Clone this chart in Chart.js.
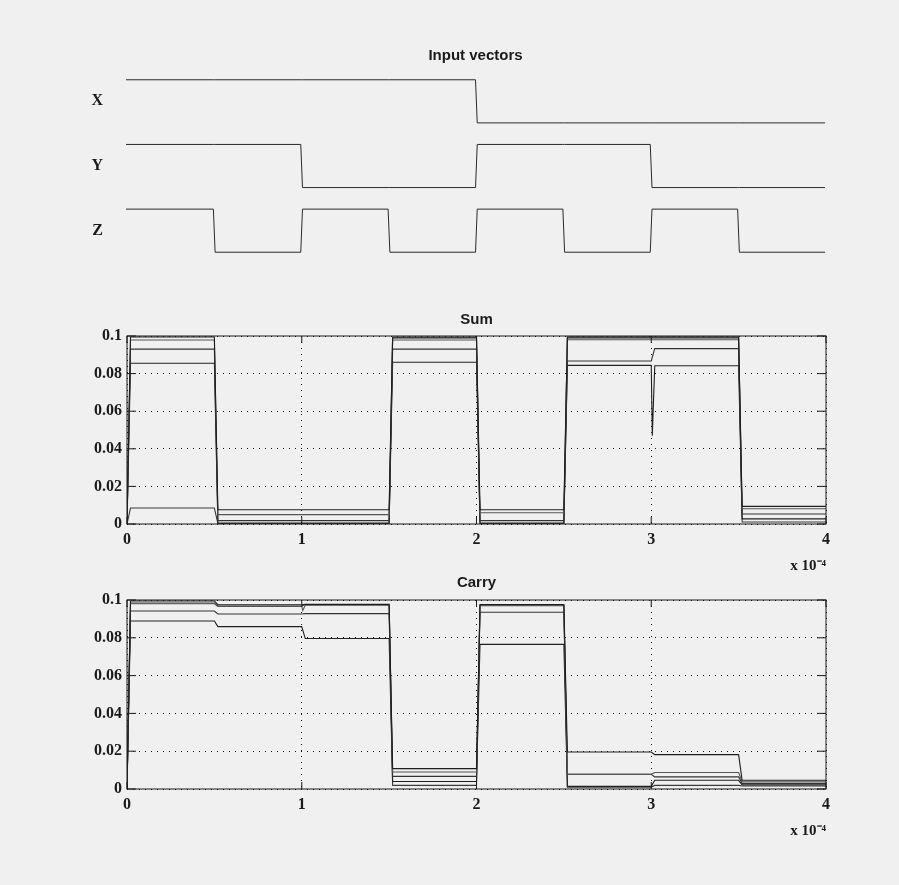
<!DOCTYPE html>
<html>
<head>
<meta charset="utf-8">
<script src="https://cdn.jsdelivr.net/npm/chart.js@4/dist/chart.umd.min.js"></script>
<style>
  html, body { margin: 0; padding: 0; background: #f0f0f0; }
  body { width: 899px; height: 885px; position: relative; overflow: hidden; }
  canvas { position: absolute; left: 0; }
</style>
</head>
<body>
<canvas id="inputs" width="899" height="240" style="top:30px"></canvas>
<canvas id="sum" width="899" height="275" style="top:300px"></canvas>
<canvas id="carry" width="899" height="280" style="top:560px"></canvas>
<script>
// Tiempo en unidades de 1e-4 s: inicio de cada tramo
const segStart = [0, 0.5, 1, 1.5, 2, 2.5, 3, 3.5];
const tEnd = 4;
const xTicks = [0, 1, 2, 3, 4];
const yTicks = [0, 0.02, 0.04, 0.06, 0.08, 0.1];

// Entradas (nivel lógico por tramo)
const inputNames = ['X', 'Y', 'Z'];
const inputX = [1, 1, 1, 1, 0, 0, 0, 0];
const inputY = [1, 1, 0, 0, 1, 1, 0, 0];
const inputZ = [1, 0, 1, 0, 1, 0, 1, 0];

// Sum: nivel por tramo de cada curva
const sum1 = [0.0995, 0.0076, 0.0076, 0.0990, 0.0076, 0.0990, 0.0990, 0.0094];
const sum2 = [0.0979, 0.0050, 0.0050, 0.0979, 0.0060, 0.0980, 0.0980, 0.0081];
const sum3 = [0.0930, 0.0018, 0.0018, 0.0930, 0.0018, 0.0867, 0.0933, 0.0053];
const sum4 = [0.0855, 0.0005, 0.0005, 0.0860, 0.0005, 0.0844, 0.0842, 0.0027];
const sum5 = [0.0085, 0.0003, 0.0003, 0.0995, 0.0003, 0.0996, 0.0996, 0.0011];
const sumDips = [{ trace: 3, t: 3, y: 0.047 }];

// Carry: nivel por tramo de cada curva
const carry1 = [0.0995, 0.0975, 0.0977, 0.0108, 0.0976, 0.0196, 0.0182, 0.0046];
const carry2 = [0.0980, 0.0966, 0.0972, 0.0090, 0.0970, 0.0078, 0.0087, 0.0038];
const carry3 = [0.0942, 0.0926, 0.0928, 0.0067, 0.0935, 0.0078, 0.0064, 0.0030];
const carry4 = [0.0889, 0.0859, 0.0796, 0.0040, 0.0765, 0.0014, 0.0046, 0.0022];
const carry5 = [0.0984, 0.0968, 0.0975, 0.0019, 0.0972, 0.0010, 0.0019, 0.0016];
const carryDips = [{ trace: 1, t: 1, y: 0.0945 }];

const traceColors = ['#1e1e1e', '#555555', '#333333', '#202020', '#3a3a3a'];

const serifBold = { family: "'Liberation Serif', 'Times New Roman', serif", size: 16, weight: 'bold' };
const titleFont = { family: "'Liberation Sans', Arial, sans-serif", size: 15, weight: 'bold' };

// Construye los puntos escalonados a partir de los niveles por tramo
function stepPoints(levels, edge, startLevel, dips) {
  const pts = [];
  if (startLevel !== undefined) pts.push({ x: 0, y: startLevel });
  levels.forEach((lv, i) => {
    const t0 = segStart[i];
    const t1 = i + 1 < segStart.length ? segStart[i + 1] : tEnd;
    const dip = (dips || []).find(d => d.t === t0);
    if (dip) pts.push({ x: t0 + edge * 0.3, y: dip.y });
    const first = (i === 0 && startLevel === undefined) ? t0 : t0 + edge;
    pts.push({ x: first, y: lv });
    pts.push({ x: t1, y: lv });
  });
  return pts;
}

// Marco y marcas hacia adentro (estilo MATLAB)
const marcoPlugin = {
  id: 'marco',
  afterDatasetsDraw(chart) {
    const { ctx, chartArea: a, scales } = chart;
    ctx.save();
    ctx.strokeStyle = '#1a1a1a';
    ctx.lineWidth = 1;
    ctx.strokeRect(a.left, a.top, a.right - a.left, a.bottom - a.top);
    ctx.beginPath();
    scales.x.ticks.forEach(t => {
      const px = scales.x.getPixelForValue(t.value);
      ctx.moveTo(px, a.bottom); ctx.lineTo(px, a.bottom - 7);
      ctx.moveTo(px, a.top); ctx.lineTo(px, a.top + 7);
    });
    scales.y.ticks.forEach(t => {
      const py = scales.y.getPixelForValue(t.value);
      ctx.moveTo(a.left, py); ctx.lineTo(a.left + 9, py);
      ctx.moveTo(a.right, py); ctx.lineTo(a.right - 9, py);
    });
    ctx.stroke();
    ctx.restore();
  }
};

// Gráfico de vectores de entrada (ejes apilados, uno por señal)
const inputs = [inputX, inputY, inputZ];
const inputScales = {
  x: { type: 'linear', min: 0, max: tEnd, display: false }
};
// el último eje definido queda arriba, por eso se recorren al revés
for (let k = inputs.length - 1; k >= 0; k--) {
  inputScales['y' + k] = {
    type: 'linear',
    position: 'left',
    stack: 'inputs',
    stackWeight: 1,
    min: -0.25,
    max: 1.25,
    grid: { display: false, drawTicks: false },
    border: { display: false },
    afterBuildTicks: s => { s.ticks = [{ value: 0.5 }]; },
    afterFit: s => { s.width = 126; s.paddingTop = 0; s.paddingBottom = 0; },
    ticks: { callback: () => inputNames[k], font: serifBold, color: '#1a1a1a', padding: 23 }
  };
}

new Chart(document.getElementById('inputs'), {
  type: 'line',
  data: {
    datasets: inputs.map((lv, k) => ({
      label: inputNames[k],
      data: stepPoints(lv, 0.01),
      yAxisID: 'y' + k,
      borderColor: '#2a2a2a',
      borderWidth: 1,
      pointRadius: 0,
      tension: 0
    }))
  },
  options: {
    responsive: false,
    animation: false,
    layout: { padding: { left: 0, right: 74, top: 0, bottom: 7 } },
    plugins: {
      legend: { display: false },
      tooltip: { enabled: false },
      title: {
        display: true,
        text: 'Input vectors',
        fullSize: false,
        font: titleFont,
        color: '#1a1a1a',
        padding: { top: 17, bottom: 4 }
      }
    },
    scales: inputScales
  }
});

// Gráficos de salida (Sum y Carry)
function outputChart(id, title, traces, dips, padTop, padBottom) {
  return new Chart(document.getElementById(id), {
    type: 'line',
    data: {
      datasets: traces.map((lv, k) => ({
        label: title + ' ' + (k + 1),
        data: stepPoints(lv, 0.02, 0, dips.filter(d => d.trace === k)),
        borderColor: traceColors[k],
        borderWidth: 1.1,
        pointRadius: 0,
        tension: 0
      }))
    },
    options: {
      responsive: false,
      animation: false,
      layout: { padding: { left: 0, right: 73, top: 0, bottom: 0 } },
      plugins: {
        legend: { display: false },
        tooltip: { enabled: false },
        title: {
          display: true,
          text: title,
          fullSize: false,
          font: titleFont,
          color: '#1a1a1a',
          padding: { top: padTop, bottom: padBottom }
        }
      },
      scales: {
        x: {
          type: 'linear',
          min: 0,
          max: tEnd,
          afterBuildTicks: s => { s.ticks = xTicks.map(v => ({ value: v })); },
          afterFit: s => { s.height = 51; },
          grid: { color: '#111', drawTicks: false },
          border: { display: false, dash: [1, 5] },
          ticks: { font: serifBold, color: '#1a1a1a', padding: 6 },
          title: {
            display: true,
            text: 'x 10\u207B\u2074',
            align: 'end',
            font: { family: serifBold.family, size: 15, weight: 'bold' },
            color: '#1a1a1a',
            padding: { top: 0, bottom: 0 }
          }
        },
        y: {
          type: 'linear',
          min: 0,
          max: 0.1,
          afterBuildTicks: s => { s.ticks = yTicks.map(v => ({ value: v })); },
          afterFit: s => { s.width = 127; },
          grid: { color: '#111', drawTicks: false },
          border: { display: false, dash: [1, 5] },
          ticks: {
            font: serifBold,
            color: '#1a1a1a',
            padding: 5,
            callback: v => String(+v.toFixed(2))
          }
        }
      }
    },
    plugins: [marcoPlugin]
  });
}

outputChart('sum', 'Sum', [sum1, sum2, sum3, sum4, sum5], sumDips, 11, 7);
outputChart('carry', 'Carry', [carry1, carry2, carry3, carry4, carry5], carryDips, 14, 8);
</script>
</body>
</html>
